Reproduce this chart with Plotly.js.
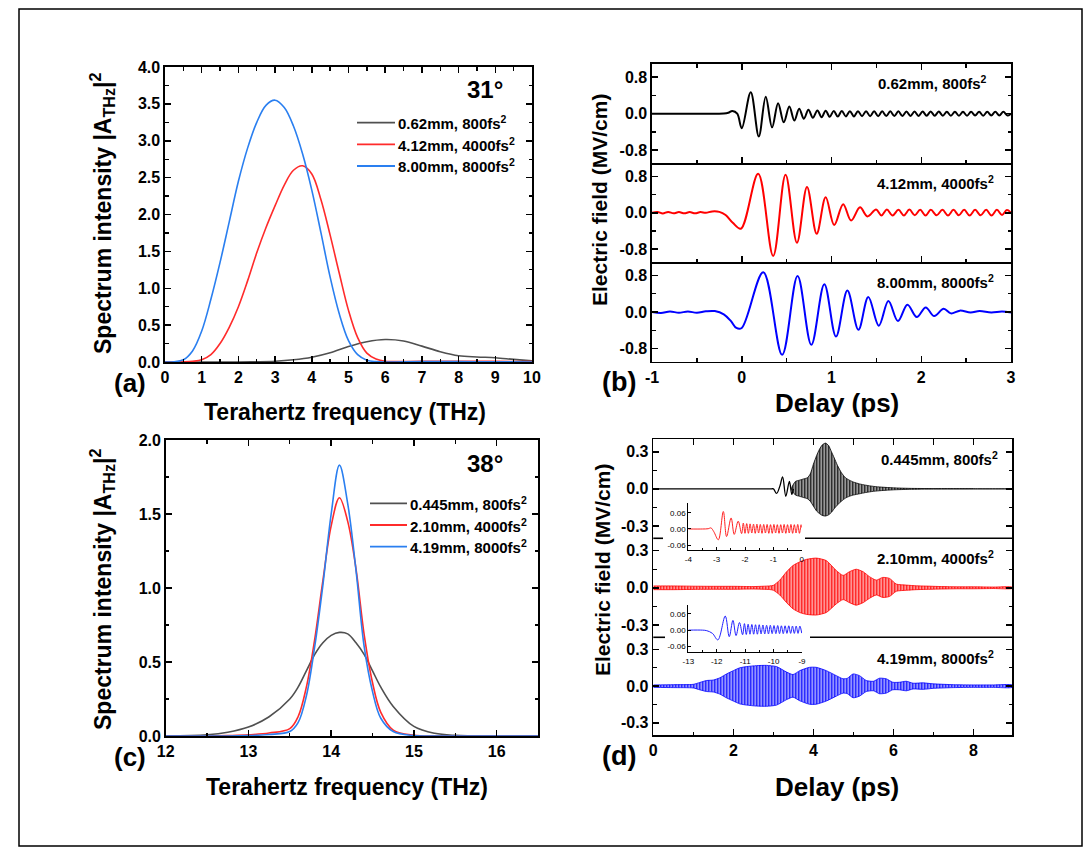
<!DOCTYPE html>
<html><head><meta charset="utf-8">
<script src="https://cdn.plot.ly/plotly-3.0.1.min.js"></script>
<style>html,body{margin:0;padding:0;background:#fff}#chart{width:1084px;height:851px}</style>
</head><body><div id="chart"></div>
<script>
// ---------------- DATA ----------------
// Panel (a): 31 deg spectra
const aFreq = [0,0.25,0.5,0.75,1.0,1.25,1.5,1.75,2.0,2.25,2.5,2.75,3.0,3.25,3.5,3.75,4.0,4.25,4.5,4.75,5.0,5.25,5.5,5.75,6.0,7,8,9,10];
const aBlue = [0,0.003,0.03,0.15,0.42,0.85,1.35,1.9,2.45,2.9,3.25,3.48,3.55,3.45,3.2,2.82,2.33,1.75,1.15,0.65,0.29,0.1,0.025,0.005,0,0.005,0.005,0.003,0];
const aRed  = [0,0,0.003,0.01,0.03,0.1,0.25,0.47,0.75,1.1,1.48,1.82,2.12,2.4,2.6,2.66,2.55,2.2,1.72,1.2,0.7,0.33,0.12,0.04,0.01,0.01,0.01,0.008,0.005];
const aGrayFreq = [0,2,2.5,3,3.5,4,4.5,5,5.5,6,6.5,7,7.5,8,8.5,9,9.5,10];
const aGray = [0,0,0.003,0.01,0.03,0.065,0.125,0.21,0.275,0.305,0.285,0.215,0.14,0.085,0.068,0.058,0.035,0.015];
const aNames = ['0.62mm, 800fs<sup>2</sup>','4.12mm, 4000fs<sup>2</sup>','8.00mm, 8000fs<sup>2</sup>'];

// Panel (c): 38 deg spectra
const cFreq = [12,12.5,12.75,13,13.25,13.5,13.6,13.7,13.8,13.9,14.0,14.1,14.2,14.3,14.4,14.5,14.6,14.75,15,15.25,15.5,16,16.5];
const cGray = [0,0.008,0.025,0.06,0.13,0.25,0.33,0.44,0.55,0.63,0.68,0.70,0.69,0.63,0.55,0.44,0.33,0.2,0.065,0.018,0.004,0,0];
const cRed  = [0,0,0.003,0.008,0.02,0.05,0.13,0.33,0.65,1.05,1.42,1.61,1.45,1.13,0.68,0.36,0.16,0.04,0.005,0,0,0,0];
const cBlue = [0,0,0,0.003,0.01,0.03,0.09,0.27,0.6,1.02,1.5,1.83,1.57,1.12,0.6,0.3,0.12,0.03,0.003,0,0,0,0];
const cNames = ['0.445mm, 800fs<sup>2</sup>','2.10mm, 4000fs<sup>2</sup>','4.19mm, 8000fs<sup>2</sup>'];

// Panel (b): time-domain fields (extrema)
const bBlackT = [-1,-0.3,-0.2,-0.15,-0.105,-0.05,0.0,0.10,0.19,0.267,0.338,0.405,0.468,0.53,0.586,0.64,0.692,0.743,0.792,0.843,0.89,0.935,
  0.98,1.025,1.07,1.115,1.16,1.205,1.25,1.295,1.34,1.385,1.43,1.475,1.52,1.565,1.61,1.655,1.70,1.745,1.79,1.835,1.88,1.925,1.97,2.015,
  2.06,2.105,2.15,2.195,2.24,2.285,2.33,2.375,2.42,2.465,2.51,2.555,2.60,2.645,2.69,2.735,2.78,2.825,2.87,2.915,2.96,3.0];
const bBlackE = [0,0,0.003,0.02,0.06,0.0,-0.32,0.47,-0.5,0.37,-0.30,0.23,-0.19,0.155,-0.15,0.11,-0.11,0.085,-0.09,0.07,-0.08,0.065,
  -0.07,0.06,-0.065,0.06,-0.06,0.055,-0.06,0.055,-0.055,0.055,-0.055,0.05,-0.055,0.05,-0.05,0.05,-0.05,0.05,-0.05,0.045,-0.05,0.045,-0.05,0.045,
  -0.045,0.045,-0.045,0.045,-0.045,0.04,-0.045,0.04,-0.045,0.04,-0.045,0.04,-0.04,0.04,-0.045,0.04,-0.04,0.04,-0.04,0.04,-0.04,0.0];
const bRedT = [-1,-0.94,-0.88,-0.82,-0.76,-0.70,-0.64,-0.58,-0.52,-0.46,-0.40,-0.33,-0.25,-0.18,-0.1,-0.01,0.183,0.35,0.488,0.615,0.727,0.835,0.935,
  1.03,1.13,1.218,1.318,1.40,1.497,1.557,1.616,1.681,1.746,1.807,1.868,1.928,1.988,2.048,2.107,2.172,2.236,2.298,2.359,2.419,2.478,2.539,
  2.60,2.662,2.723,2.783,2.843,2.9,2.954,3.0];
const bRedE = [0,0.02,-0.015,0.02,-0.01,0.015,-0.01,0.015,-0.01,0.015,0.0,0.03,0.02,-0.05,-0.22,-0.35,0.86,-0.95,0.84,-0.66,0.57,-0.46,0.34,
  -0.27,0.19,-0.17,0.12,-0.08,0.07,-0.06,0.07,-0.06,0.065,-0.06,0.07,-0.055,0.065,-0.06,0.065,-0.055,0.065,-0.06,0.065,-0.055,0.065,-0.06,
  0.065,-0.055,0.065,-0.06,0.065,-0.05,0.06,0.0];
const bBlueT = [-1,-0.9,-0.8,-0.7,-0.6,-0.5,-0.4,-0.3,-0.2,-0.12,-0.06,0.0,0.24,0.45,0.622,0.775,0.92,1.05,1.177,1.30,1.41,1.527,1.634,1.74,
  1.846,1.95,2.05,2.144,2.25,2.33,2.43,2.55,2.65,2.78,2.9,3.0];
const bBlueE = [0,-0.02,0.01,-0.015,0.01,-0.015,0.015,0.02,-0.05,-0.2,-0.35,-0.35,0.87,-0.94,0.79,-0.72,0.61,-0.54,0.47,-0.39,0.33,-0.30,0.24,-0.20,
  0.16,-0.11,0.10,-0.09,0.07,-0.03,0.03,-0.01,0.02,-0.01,0.01,-0.01];
const bLabels = ['0.62mm, 800fs<sup>2</sup>','4.12mm, 4000fs<sup>2</sup>','8.00mm, 8000fs<sup>2</sup>'];

// Panel (d): dense carrier -> envelopes
const dBlackLineT = [0,2.95,3.0,3.08,3.16,3.23,3.31,3.40,3.46,3.5];
const dBlackLineE = [0,0,0.0,-0.037,0.02,0.097,-0.06,0.06,-0.045,0.0];
const dBlackT  = [3.45,3.55,3.65,3.75,3.85,3.92,4.0,4.08,4.15,4.22,4.3,4.38,4.45,4.52,4.6,4.7,4.8,4.9,5.0,5.15,5.3,5.5,5.7,6.0,6.4,7.0,8.0,8.96];
const dBlackUp = [0.0,0.06,0.07,0.08,0.09,0.12,0.2,0.27,0.32,0.355,0.37,0.35,0.30,0.25,0.19,0.13,0.09,0.07,0.055,0.04,0.03,0.02,0.014,0.008,0.004,0.002,0.001,0];
const dBlackLo = [0,-0.05,-0.06,-0.07,-0.08,-0.10,-0.14,-0.18,-0.20,-0.215,-0.22,-0.21,-0.19,-0.16,-0.13,-0.1,-0.075,-0.06,-0.05,-0.04,-0.03,-0.02,-0.014,-0.008,-0.004,-0.002,-0.001,0];
const dRedT  = [0,0.5,1.0,1.5,2.0,2.5,2.9,3.0,3.16,3.33,3.49,3.66,3.83,4.07,4.32,4.57,4.74,4.9,5.07,5.24,5.4,5.57,5.73,5.9,6.07,6.32,6.57,6.8,7.2,7.6,8.0,8.5,8.96];
const dRedUp = [0.015,0.015,0.013,0.012,0.012,0.01,0.015,0.02,0.062,0.13,0.18,0.21,0.23,0.24,0.22,0.14,0.10,0.13,0.15,0.13,0.09,0.062,0.084,0.076,0.03,0.022,0.016,0.014,0.01,0.008,0.008,0.006,0.006];
const dRedLo = [-0.015,-0.015,-0.013,-0.012,-0.012,-0.01,-0.014,-0.02,-0.058,-0.12,-0.17,-0.2,-0.215,-0.22,-0.2,-0.13,-0.095,-0.12,-0.14,-0.12,-0.085,-0.058,-0.078,-0.07,-0.028,-0.02,-0.015,-0.013,-0.01,-0.008,-0.008,-0.006,-0.006];
const dBlueT  = [0,0.5,1.0,1.16,1.33,1.5,1.66,1.83,2.0,2.16,2.33,2.58,2.83,3.08,3.33,3.49,3.66,3.9,4.07,4.32,4.57,4.74,4.85,4.99,5.15,5.32,5.5,5.65,5.82,5.98,6.15,6.32,6.49,6.74,6.99,7.5,8.0,8.5,8.96];
const dBlueUp = [0.01,0.012,0.015,0.03,0.046,0.05,0.068,0.10,0.127,0.15,0.16,0.168,0.17,0.16,0.115,0.095,0.127,0.154,0.154,0.127,0.086,0.06,0.065,0.1,0.086,0.046,0.04,0.065,0.06,0.032,0.032,0.04,0.024,0.027,0.019,0.012,0.01,0.01,0.01];
const dBlueLo = [-0.01,-0.012,-0.015,-0.03,-0.044,-0.048,-0.065,-0.096,-0.122,-0.145,-0.155,-0.163,-0.165,-0.155,-0.11,-0.09,-0.12,-0.148,-0.148,-0.122,-0.082,-0.057,-0.062,-0.095,-0.082,-0.044,-0.038,-0.062,-0.057,-0.03,-0.03,-0.038,-0.023,-0.026,-0.018,-0.012,-0.01,-0.01,-0.01];
const dLabels = ['0.445mm, 800fs<sup>2</sup>','2.10mm, 4000fs<sup>2</sup>','4.19mm, 8000fs<sup>2</sup>'];

// Insets
const in1T = [-4,-3.5,-3.3,-3.2,-3.1,-2.94,-2.765,-2.65,-2.49,-2.38,-2.24,-2.12,-2.06,-2.0,-1.94,-1.88,-1.82,-1.76,-1.70,-1.64,-1.58,-1.52,-1.46,-1.40,
  -1.34,-1.28,-1.22,-1.16,-1.10,-1.04,-0.98,-0.92,-0.86,-0.80,-0.74,-0.68,-0.62,-0.56,-0.50,-0.44,-0.38,-0.32,-0.26,-0.20,-0.14,-0.08,-0.02,0];
const in1E = [0,0,0.001,0.004,-0.01,-0.04,0.065,-0.028,0.041,-0.02,0.029,-0.017,0.022,-0.016,0.02,-0.016,0.019,-0.015,0.018,-0.016,0.018,-0.015,0.017,-0.016,
  0.017,-0.015,0.017,-0.016,0.016,-0.016,0.017,-0.015,0.016,-0.016,0.016,-0.015,0.017,-0.016,0.016,-0.015,0.017,-0.016,0.016,-0.015,0.017,-0.016,0.016,0.005];
const in2T = [-13,-12.5,-12.35,-12.15,-11.96,-11.7,-11.56,-11.43,-11.32,-11.2,-11.09,-11.025,-10.96,-10.895,-10.83,-10.765,-10.70,-10.635,-10.57,-10.505,
  -10.44,-10.375,-10.31,-10.245,-10.18,-10.115,-10.05,-9.985,-9.92,-9.855,-9.79,-9.725,-9.66,-9.595,-9.53,-9.465,-9.40,-9.335,-9.27,-9.205,-9.14,-9.075,-9.01];
const in2E = [0,0,-0.002,-0.012,-0.036,0.052,-0.024,0.036,-0.02,0.028,-0.017,0.024,-0.016,0.022,-0.015,0.021,-0.015,0.02,-0.015,0.02,
  -0.014,0.019,-0.014,0.018,-0.014,0.018,-0.013,0.017,-0.013,0.017,-0.013,0.016,-0.013,0.016,-0.012,0.016,-0.012,0.015,-0.012,0.015,-0.012,0.015,-0.011];

// tick labels
const bYTicks = [-0.8,0,0.8], bYText = ['-0.8','0.0','0.8'];
const bXTicks = [-1,0,1,2,3], bXText = ['-1','0','1','2','3'];
const dYTicks = [-0.3,0,0.3], dYText = ['-0.3','0.0','0.3'];
const in1XTicks = [-4,-3,-2,-1,0], in1XText = ['-4','-3','-2','-1','0'];
const in2XTicks = [-13,-12,-11,-10,-9], in2XText = ['-13','-12','-11','-10','-9'];
const inYTicks = [-0.06,0,0.06], inYText = ['-0.06','0.00','0.06'];

// ---------------- LAYOUT HELPERS ----------------
const W=1084,H=851;
const PX=p=>p/W, PY=p=>1-p/H;
const FONT='Liberation Sans, Arial, sans-serif';
const GRAY='#505050', RED1='#ff2b2b', BLUE1='#2a7ff0';

function axis(p0,p1,isY,range,extra){
  const a = {domain: isY?[PY(p1),PY(p0)]:[PX(p0),PX(p1)], range:range, autorange:false,
    showline:true, linewidth:1.6, linecolor:'#000', mirror:'ticks', ticks:'inside', ticklen:6, tickwidth:1.5, tickcolor:'#000',
    showgrid:false, zeroline:false, fixedrange:true,
    tickfont:{family:FONT,size:16,color:'#000',weight:'bold'}};
  return Object.assign(a, extra||{});
}
function minor(vals,len){return {tickvals:vals,ticks:'inside',ticklen:len||3.5,tickwidth:1.3,tickcolor:'#000'};}

const layout = {width:W,height:H,margin:{l:0,r:0,t:0,b:0},paper_bgcolor:'#fff',plot_bgcolor:'rgba(0,0,0,0)',showlegend:false,
  font:{family:FONT,color:'#000'}};

// (a)
layout.xaxis  = axis(165,532,false,[0,10],{anchor:'y',dtick:1,tick0:0,minor:minor([0.5,1.5,2.5,3.5,4.5,5.5,6.5,7.5,8.5,9.5])});
layout.yaxis  = axis(67,362,true,[0,4],{anchor:'x',dtick:0.5,tick0:0,tickformat:'.1f',minor:minor([0.25,0.75,1.25,1.75,2.25,2.75,3.25,3.75])});
// (b)
const bRange=[-1.09,1.09];
const bMinorY=minor([-0.4,0.4]), bMinorX=minor([-0.5,0.5,1.5,2.5]);
layout.xaxis2 = axis(652,1011,false,[-1,3],{anchor:'y2',tickvals:bXTicks,showticklabels:false,minor:bMinorX});
layout.yaxis2 = axis(64,163.3,true,bRange,{anchor:'x2',tickvals:bYTicks,ticktext:bYText,minor:bMinorY});
layout.xaxis3 = axis(652,1011,false,[-1,3],{anchor:'y3',mirror:false,tickvals:bXTicks,showticklabels:false,minor:bMinorX});
layout.yaxis3 = axis(163.3,262.3,true,bRange,{anchor:'x3',tickvals:bYTicks,ticktext:bYText,minor:bMinorY});
layout.xaxis4 = axis(652,1011,false,[-1,3],{anchor:'y4',mirror:false,tickvals:bXTicks,ticktext:bXText,minor:bMinorX});
layout.yaxis4 = axis(262.3,361.7,true,bRange,{anchor:'x4',tickvals:bYTicks,ticktext:bYText,minor:bMinorY});
// (c)
layout.xaxis5 = axis(165.7,538,false,[12,16.5],{anchor:'y5',dtick:1,tick0:12,minor:minor([12.5,13.5,14.5,15.5,16.5])});
layout.yaxis5 = axis(440,736,true,[0,2],{anchor:'x5',dtick:0.5,tick0:0,tickformat:'.1f',minor:minor([0.25,0.75,1.25,1.75])});
// (d)
const dRange=[-0.4,0.4], dMinorY=minor([-0.15,0.15]);
layout.xaxis6 = axis(653.3,1012,false,[0,8.96],{anchor:'y6',side:'top',mirror:false,tickvals:[1,2,3,4,5,6,7,8],showticklabels:false});
layout.yaxis6 = axis(439.4,538.3,true,dRange,{anchor:'x6',tickvals:dYTicks,ticktext:dYText,minor:dMinorY});
layout.xaxis7 = axis(653.3,1012,false,[0,8.96],{anchor:'y7',showline:false,mirror:false,ticks:'',showticklabels:false});
layout.yaxis7 = axis(538.3,637.3,true,dRange,{anchor:'x7',tickvals:dYTicks,ticktext:dYText,minor:dMinorY});
layout.xaxis8 = axis(653.3,1012,false,[0,8.96],{anchor:'y8',mirror:false,tickvals:[0,2,4,6,8],minor:minor([1,3,5,7])});
layout.yaxis8 = axis(637.3,735,true,dRange,{anchor:'x8',tickvals:dYTicks,ticktext:dYText,minor:dMinorY});
// insets
const inFont={family:FONT,size:8,color:'#000'};
function inAxis(p0,p1,isY,range,extra){
  return axis(p0,p1,isY,range,Object.assign({mirror:false,linewidth:1,tickwidth:1,ticklen:3,tickfont:inFont},extra));
}
layout.xaxis9  = inAxis(688.3,801.7,false,[-4,0],{anchor:'y9',tickvals:in1XTicks,ticktext:in1XText,ticklabelstandoff:1,minor:{tickvals:[-3.5,-2.5,-1.5,-0.5],ticks:'inside',ticklen:2,tickwidth:1,tickcolor:'#000'}});
layout.yaxis9  = inAxis(502.6,550,true,[-0.078,0.098],{anchor:'x9',tickvals:inYTicks,ticktext:inYText});
layout.xaxis10 = inAxis(688.3,802,false,[-13,-9],{anchor:'y10',tickvals:in2XTicks,ticktext:in2XText,ticklabelstandoff:1,minor:{tickvals:[-12.5,-11.5,-10.5,-9.5],ticks:'inside',ticklen:2,tickwidth:1,tickcolor:'#000'}});
layout.yaxis10 = inAxis(605,652.3,true,[-0.082,0.093],{anchor:'x10',tickvals:inYTicks,ticktext:inYText});

// ---------------- TRACES ----------------
const traces=[];
function line(x,y,xa,ya,color,w,spline){
  const t={type:'scatter',mode:'lines',x:x,y:y,xaxis:xa,yaxis:ya,line:{color:color,width:w},hoverinfo:'skip'};
  if(spline){t.line.shape='spline';t.line.smoothing=1;}
  return t;
}
// (a)
traces.push(line(aGrayFreq,aGray,'x','y',GRAY,1.6,true));
traces.push(line(aFreq,aRed,'x','y',RED1,1.6,true));
traces.push(line(aFreq,aBlue,'x','y',BLUE1,1.6,true));
// (b)
traces.push(line(bBlackT,bBlackE,'x2','y2','#000',2,true));
traces.push(line(bRedT,bRedE,'x3','y3','#ff0000',2,true));
traces.push(line(bBlueT,bBlueE,'x4','y4','#0000ff',2,true));
// (c)
traces.push(line(cFreq,cGray,'x5','y5',GRAY,1.6,true));
traces.push(line(cFreq,cRed,'x5','y5',RED1,1.6,true));
traces.push(line(cFreq,cBlue,'x5','y5',BLUE1,1.6,true));
// (d) bands
function band(t,up,lo,xa,ya,color,bg){
  return {type:'scatter',mode:'lines',x:t.concat(t.slice().reverse()),y:up.concat(lo.slice().reverse()),xaxis:xa,yaxis:ya,
    fill:'toself',fillcolor:bg,fillpattern:{shape:'|',size:3,solidity:0.55,fgcolor:color,bgcolor:bg},
    line:{color:color,width:0.8,shape:'spline',smoothing:0.6},hoverinfo:'skip'};
}
traces.push(line(dBlackLineT,dBlackLineE,'x6','y6','#000',1.3,true));
traces.push(band(dBlackT,dBlackUp,dBlackLo,'x6','y6','#000','rgba(0,0,0,0.12)'));
traces.push(band(dRedT,dRedUp,dRedLo,'x7','y7','#ff0000','rgba(255,0,0,0.15)'));
traces.push(band(dBlueT,dBlueUp,dBlueLo,'x8','y8','#0000ff','rgba(0,0,255,0.15)'));
// insets
traces.push(line(in1T,in1E,'x9','y9','#ff2020',1,true));
traces.push(line(in2T,in2E,'x10','y10','#2020ff',1,true));

// ---------------- SHAPES & ANNOTATIONS ----------------
const shapes=[], anns=[];
function pline(x0,y0,x1,y1,color,w){shapes.push({type:'line',xref:'paper',yref:'paper',x0:PX(x0),y0:PY(y0),x1:PX(x1),y1:PY(y1),line:{color:color,width:w}});}
// outer border
shapes.push({type:'rect',xref:'paper',yref:'paper',x0:PX(19),y0:PY(846),x1:PX(1082),y1:PY(9),line:{color:'#000',width:1.5},fillcolor:'rgba(0,0,0,0)'});
// (d) dividers (broken where insets sit)
pline(653.3,538.3,663,538.3,'#000',1.6); pline(805,538.3,1012,538.3,'#000',1.6);
pline(653.3,637.3,665,637.3,'#000',1.6); pline(810,637.3,1012,637.3,'#000',1.6);

function ann(text,x,y,size,opts){
  anns.push(Object.assign({xref:'paper',yref:'paper',x:PX(x),y:PY(y),text:text,showarrow:false,borderpad:0,
    font:{family:FONT,size:size,color:'#000',weight:'bold'},xanchor:'center',yanchor:'middle'},opts||{}));
}
// legends
const aColors=[GRAY,RED1,BLUE1];
[122.7,144.3,166].forEach((yy,i)=>{pline(357,yy,395,yy,aColors[i],1.8);ann(aNames[i],397,yy,15,{xanchor:'left'});});
[503.3,525,546.7].forEach((yy,i)=>{pline(370,yy,407,yy,aColors[i],1.8);ann(cNames[i],409,yy,15,{xanchor:'left'});});
// titles
ann('Spectrum intensity |A<sub>THz</sub>|<sup>2</sup>',102,214,23,{textangle:-90});
ann('Spectrum intensity |A<sub>THz</sub>|<sup>2</sup>',102,590,23,{textangle:-90});
ann('Terahertz frequency (THz)',345,412,23);
ann('Terahertz frequency (THz)',347,787,23);
ann('Electric field (MV/cm)',600,200,21,{textangle:-90});
ann('Electric field (MV/cm)',602,570,21,{textangle:-90});
ann('Delay (ps)',837,403,26);
ann('Delay (ps)',837,787,26);
ann('(a)',130,383,26); ann('(b)',619,382,27); ann('(c)',130,757,26); ann('(d)',619,756,27);
ann('31°',485,90,24); ann('38°',485,463,24);
// subplot labels
ann(bLabels[0],988,83,15,{xanchor:'right'});
ann(bLabels[1],995,182,15,{xanchor:'right'});
ann(bLabels[2],995,281,15,{xanchor:'right'});
ann(dLabels[0],999,459,15,{xanchor:'right'});
ann(dLabels[1],995,557,15,{xanchor:'right'});
ann(dLabels[2],995,657,15,{xanchor:'right'});

layout.shapes=shapes; layout.annotations=anns;
Plotly.newPlot('chart',traces,layout,{staticPlot:true,displayModeBar:false});
</script></body></html>
